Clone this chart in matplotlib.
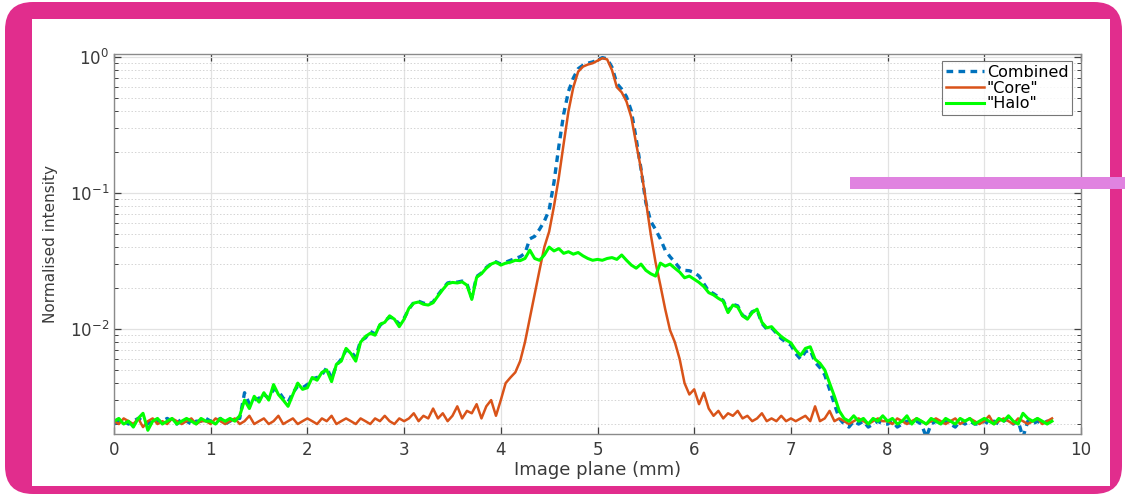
import numpy as np
import matplotlib
matplotlib.use("Agg")
import matplotlib.pyplot as plt
from matplotlib.patches import FancyBboxPatch, Rectangle
from matplotlib.transforms import IdentityTransform

plt.rcParams['font.family'] = ['DejaVu Sans']
plt.rcParams['mathtext.default'] = 'regular'

# image plane position (mm), 0.05 mm step
x_mm = np.round(np.arange(195) * 0.05, 2)

core = [
    0.0021, 0.0020, 0.0022, 0.0021, 0.0020, 0.0022, 0.0019, 0.0021, 0.0022, 0.0020,
    0.0021, 0.0020, 0.0022, 0.0021, 0.0020, 0.0021, 0.0022, 0.0020, 0.0021, 0.0021,
    0.0020, 0.0022, 0.0021, 0.0020, 0.0021, 0.0022, 0.0020, 0.0021, 0.0023, 0.0020,
    0.0021, 0.0022, 0.0020, 0.0021, 0.0023, 0.0020, 0.0021, 0.0022, 0.0020, 0.0021,
    0.0022, 0.0021, 0.0020, 0.0022, 0.0021, 0.0023, 0.0020, 0.0021, 0.0022, 0.0021,
    0.0020, 0.0022, 0.0021, 0.0020, 0.0022, 0.0021, 0.0023, 0.0021, 0.0020, 0.0022,
    0.0021, 0.0022, 0.0024, 0.0021, 0.0023, 0.0022, 0.0026, 0.0022, 0.0024, 0.0021,
    0.0023, 0.0027, 0.0022, 0.0025, 0.0024, 0.0028, 0.0022, 0.0027, 0.0030, 0.0023,
    0.0030, 0.0040, 0.0044, 0.0048, 0.0058, 0.0080, 0.0120, 0.0180, 0.0270, 0.0400,
    0.0520, 0.0800, 0.1300, 0.2300, 0.4000, 0.6000, 0.7800, 0.8500, 0.8800, 0.9000,
    0.9400, 0.9800, 0.9600, 0.8000, 0.6000, 0.5500, 0.4700, 0.3600, 0.2300, 0.1500,
    0.0880, 0.0500, 0.0310, 0.0210, 0.0140, 0.0098, 0.0080, 0.0060, 0.0040, 0.0033,
    0.0036, 0.0028, 0.0034, 0.0026, 0.0023, 0.0025, 0.0022, 0.0024, 0.0023, 0.0025,
    0.0022, 0.0023, 0.0021, 0.0022, 0.0024, 0.0021, 0.0022, 0.0021, 0.0023, 0.0021,
    0.0022, 0.0021, 0.0022, 0.0023, 0.0021, 0.0027, 0.0021, 0.0022, 0.0025, 0.0021,
    0.0022, 0.0021, 0.0020, 0.0021, 0.0022, 0.0021, 0.0020, 0.0021, 0.0022, 0.0021,
    0.0021, 0.0020, 0.0022, 0.0021, 0.0020, 0.0021, 0.0022, 0.0021, 0.0020, 0.0021,
    0.0022, 0.0021, 0.0020, 0.0021, 0.0022, 0.0020, 0.0021, 0.0022, 0.0021, 0.0020,
    0.0021, 0.0023, 0.0020, 0.0021, 0.0022, 0.0021, 0.0020, 0.0022, 0.0021, 0.0020,
    0.0021, 0.0022, 0.0020, 0.0021, 0.0022,
]

halo = [
    0.0021, 0.0022, 0.0020, 0.0021, 0.0019, 0.0022, 0.0024, 0.0018, 0.0021, 0.0022,
    0.0020, 0.0021, 0.0022, 0.0020, 0.0021, 0.0022, 0.0021, 0.0020, 0.0022, 0.0021,
    0.0021, 0.0020, 0.0022, 0.0021, 0.0022, 0.0021, 0.0023, 0.0030, 0.0026, 0.0032,
    0.0029, 0.0034, 0.0030, 0.0039, 0.0033, 0.0030, 0.0027, 0.0033, 0.0040, 0.0036,
    0.0037, 0.0044, 0.0042, 0.0048, 0.0050, 0.0041, 0.0055, 0.0058, 0.0072, 0.0066,
    0.0058, 0.0080, 0.0088, 0.0093, 0.0090, 0.0108, 0.0112, 0.0125, 0.0118, 0.0104,
    0.0118, 0.0142, 0.0155, 0.0158, 0.0152, 0.0150, 0.0156, 0.0175, 0.0195, 0.0215,
    0.0220, 0.0218, 0.0222, 0.0210, 0.0165, 0.0240, 0.0255, 0.0280, 0.0300, 0.0310,
    0.0295, 0.0305, 0.0310, 0.0320, 0.0318, 0.0330, 0.0380, 0.0330, 0.0320, 0.0350,
    0.0400, 0.0375, 0.0390, 0.0360, 0.0370, 0.0355, 0.0365, 0.0345, 0.0330, 0.0320,
    0.0325, 0.0320, 0.0330, 0.0335, 0.0325, 0.0350, 0.0320, 0.0295, 0.0280, 0.0300,
    0.0270, 0.0255, 0.0245, 0.0305, 0.0290, 0.0300, 0.0280, 0.0262, 0.0238, 0.0245,
    0.0232, 0.0220, 0.0205, 0.0185, 0.0178, 0.0168, 0.0160, 0.0132, 0.0150, 0.0145,
    0.0125, 0.0118, 0.0132, 0.0140, 0.0112, 0.0102, 0.0104, 0.0095, 0.0088, 0.0083,
    0.0079, 0.0070, 0.0064, 0.0072, 0.0074, 0.0060, 0.0056, 0.0050, 0.0040, 0.0032,
    0.0025, 0.0022, 0.0021, 0.0023, 0.0021, 0.0022, 0.0020, 0.0022, 0.0021, 0.0023,
    0.0021, 0.0022, 0.0020, 0.0021, 0.0023, 0.0020, 0.0022, 0.0021, 0.0020, 0.0022,
    0.0021, 0.0020, 0.0022, 0.0021, 0.0020, 0.0022, 0.0021, 0.0022, 0.0020, 0.0021,
    0.0022, 0.0021, 0.0020, 0.0022, 0.0021, 0.0023, 0.0021, 0.0020, 0.0024, 0.0022,
    0.0021, 0.0022, 0.0021, 0.0020, 0.0021,
]

combined = [
    0.0020, 0.0021, 0.0021, 0.0020, 0.0021, 0.0022, 0.0021, 0.0020, 0.0022, 0.0021,
    0.0021, 0.0022, 0.0021, 0.0020, 0.0022, 0.0021, 0.0020, 0.0021, 0.0021, 0.0022,
    0.0021, 0.0021, 0.0022, 0.0020, 0.0021, 0.0022, 0.0022, 0.0034, 0.0028, 0.0030,
    0.0031, 0.0033, 0.0031, 0.0036, 0.0035, 0.0031, 0.0029, 0.0034, 0.0038, 0.0037,
    0.0039, 0.0043, 0.0044, 0.0046, 0.0052, 0.0043, 0.0054, 0.0060, 0.0070, 0.0068,
    0.0062, 0.0082, 0.0086, 0.0096, 0.0092, 0.0106, 0.0115, 0.0122, 0.0120, 0.0108,
    0.0120, 0.0140, 0.0157, 0.0160, 0.0155, 0.0152, 0.0158, 0.0178, 0.0198, 0.0218,
    0.0222, 0.0221, 0.0225, 0.0214, 0.0170, 0.0243, 0.0258, 0.0283, 0.0302, 0.0312,
    0.0300, 0.0310, 0.0320, 0.0330, 0.0340, 0.0360, 0.0460, 0.0480, 0.0540, 0.0620,
    0.0750, 0.1200, 0.2200, 0.3800, 0.5600, 0.7000, 0.8200, 0.8700, 0.9000, 0.9200,
    0.9500, 0.9900, 0.9700, 0.8400, 0.6400, 0.5800, 0.5100, 0.4000, 0.2500, 0.1500,
    0.0850, 0.0620, 0.0540, 0.0460, 0.0380, 0.0340, 0.0310, 0.0280, 0.0270, 0.0268,
    0.0260, 0.0245, 0.0215, 0.0190, 0.0182, 0.0172, 0.0162, 0.0135, 0.0152, 0.0148,
    0.0126, 0.0120, 0.0134, 0.0138, 0.0110, 0.0100, 0.0102, 0.0093, 0.0085, 0.0080,
    0.0076, 0.0066, 0.0060, 0.0068, 0.0070, 0.0057, 0.0052, 0.0046, 0.0036, 0.0028,
    0.0022, 0.0020, 0.0019, 0.0021, 0.0020, 0.0021, 0.0019, 0.0020, 0.0021, 0.0020,
    0.0020, 0.0021, 0.0019, 0.0020, 0.0021, 0.0020, 0.0021, 0.0020, 0.0016, 0.0020,
    0.0021, 0.0020, 0.0021, 0.0020, 0.0019, 0.0021, 0.0020, 0.0021, 0.0020, 0.0020,
    0.0021, 0.0020, 0.0021, 0.0020, 0.0021, 0.0022, 0.0020, 0.0021, 0.0016, 0.0021,
    0.0020, 0.0021, 0.0020, 0.0021, 0.0020,
]

series_labels = ['Combined', '"Core"', '"Halo"']

W, H = 1125, 496
fig = plt.figure(figsize=(W / 100, H / 100), dpi=100)
fig.patch.set_facecolor('white')

# pink rounded frame and white inner panel (pixel coordinates)
pix = IdentityTransform()
fig.patches.append(FancyBboxPatch((5 + 22, 2 + 22), 1117 - 44, 492 - 44,
                                  boxstyle='round,pad=22,rounding_size=28',
                                  transform=pix, facecolor='#E12D8D',
                                  edgecolor='none', zorder=-3))
fig.patches.append(Rectangle((32, H - 486), 1110 - 32, 486 - 19, transform=pix,
                             facecolor='white', edgecolor='none', zorder=-2))

ax = fig.add_axes([114 / W, (H - 434) / H, 967 / W, 380 / H])
ax.set_zorder(1)

ax.plot(x_mm, combined, ls='--', dashes=(2.0, 1.6), color='#0072BD', lw=2.4,
        label=series_labels[0])
ax.plot(x_mm, core, color='#D95319', lw=1.8, label=series_labels[1])
ax.plot(x_mm, halo, color='#00FF00', lw=2.2, label=series_labels[2])

ax.set_yscale('log')
ax.set_xlim(0, 10)
ax.set_ylim(0.00169, 1.052)
ax.set_xticks(range(0, 11))
ax.set_yticks([1e-2, 1e-1, 1e0])
ax.set_yticklabels(['$10^{-2}$', '$10^{-1}$', '$10^{0}$'])

ax.grid(which='major', color='#e2e2e2', lw=0.9, ls='-')
ax.grid(which='minor', axis='y', color='#d4d4d4', lw=0.7, ls=(0, (1.5, 2)))
ax.set_axisbelow(True)

for s in ax.spines.values():
    s.set_color('#8a8a8a')
    s.set_linewidth(1.0)
ax.tick_params(which='both', direction='in', top=True, right=True,
               color='#404040', labelcolor='#3a3a3a', labelsize=12)
ax.tick_params(which='major', length=5, width=0.9)
ax.tick_params(which='minor', length=3, width=0.7)
ax.tick_params(axis='x', which='minor', bottom=False, top=False)
ax.tick_params(axis='x', pad=5)

ax.set_xlabel('Image plane (mm)', fontsize=13, color='#3a3a3a')
ax.xaxis.set_label_coords(0.5, -0.07)
ax.set_ylabel('Normalised intensity', fontsize=11, color='#3a3a3a')
ax.yaxis.set_label_coords(-0.058, 0.5)

leg = ax.legend(loc='upper right', bbox_to_anchor=(0.991, 0.982), fontsize=11.5,
                frameon=True, fancybox=False, handlelength=2.4,
                handletextpad=0.15, borderpad=0.25, labelspacing=0.05,
                borderaxespad=0)
leg.get_frame().set_edgecolor('#555555')
leg.get_frame().set_linewidth(0.8)

# violet highlight bar across the right edge
fig.patches.append(Rectangle((850, H - 189), W - 850, 12, transform=pix,
                             facecolor='#E083E0', edgecolor='none', zorder=5))

fig.savefig('out.png', dpi=100)
